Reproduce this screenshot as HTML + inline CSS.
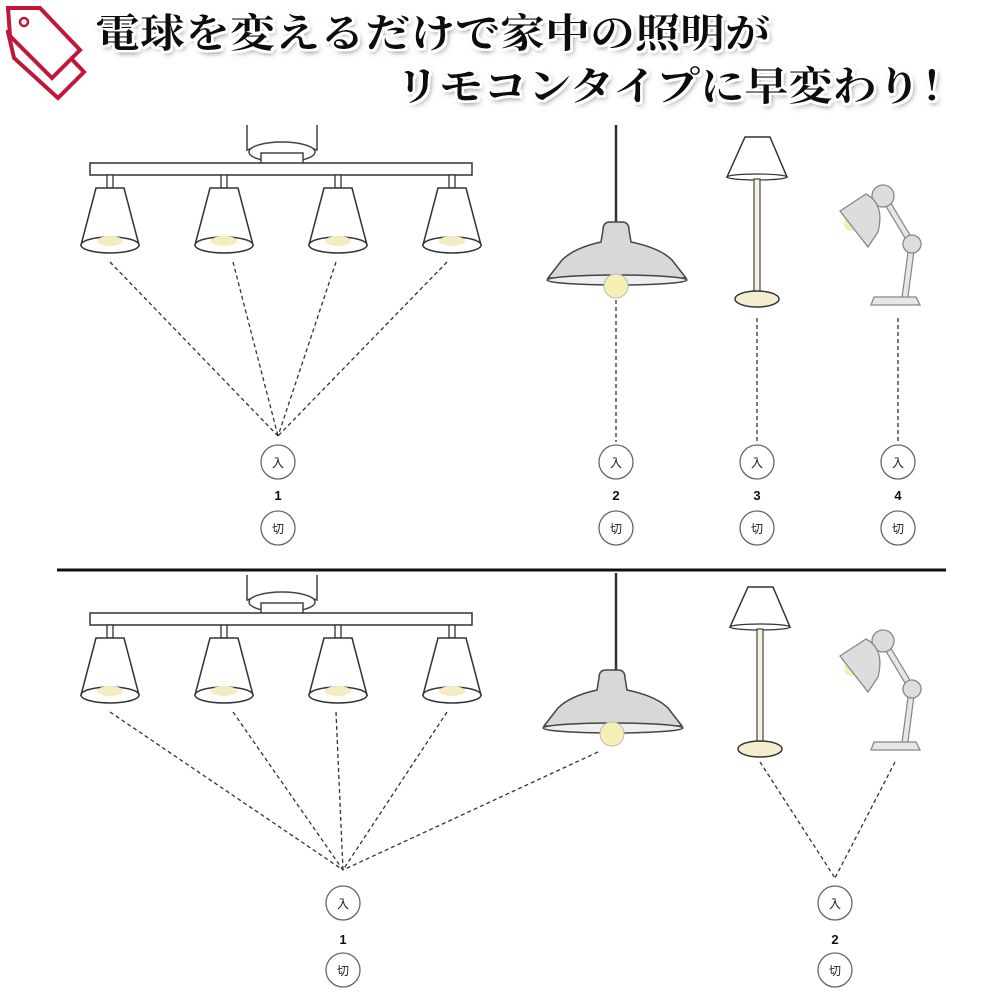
<!DOCTYPE html>
<html><head><meta charset="utf-8"><style>
html,body{margin:0;padding:0;background:#fff;}
svg{display:block;}
.t{font-family:"Liberation Sans","Noto Sans CJK JP",sans-serif;}
</style></head><body>
<svg width="1000" height="1000" viewBox="0 0 1000 1000" xmlns="http://www.w3.org/2000/svg">
<defs>
<filter id="sh" x="-10%" y="-30%" width="120%" height="160%">
<feMorphology in="SourceAlpha" operator="dilate" radius="2.5" result="d"/>
<feFlood flood-color="#fff"/><feComposite in2="d" operator="in" result="w"/>
<feGaussianBlur in="SourceAlpha" stdDeviation="3" result="b"/>
<feOffset in="b" dx="2" dy="3" result="o"/>
<feFlood flood-color="#666"/><feComposite in2="o" operator="in" result="g"/>
<feMerge><feMergeNode in="g"/><feMergeNode in="w"/><feMergeNode in="SourceGraphic"/></feMerge>
</filter>
<g id="spot">
<rect x="-3" y="0" width="6" height="13" fill="#fff" stroke="#333" stroke-width="1.3"/>
<path d="M-14,13 L14,13 L29,70 L-29,70 Z" fill="#fff" stroke="#333" stroke-width="1.5"/>
<ellipse cx="0" cy="70" rx="29" ry="8" fill="#fff" stroke="#333" stroke-width="1.5"/>
<ellipse cx="0" cy="66" rx="13" ry="5" fill="#f4ecc0"/>
</g>
<g id="fixture">
<path d="M247,0 L247,25 Q282,12 317,25 L317,0" fill="none" stroke="#444" stroke-width="1.5"/>
<ellipse cx="282" cy="27" rx="33" ry="10" fill="#fff" stroke="#444" stroke-width="1.5"/>
<rect x="261" y="28" width="42" height="14" fill="#fff" stroke="#444" stroke-width="1.5"/>
<rect x="90" y="38" width="382" height="12" fill="#fff" stroke="#333" stroke-width="1.5"/>
<use href="#spot" x="110" y="50"/>
<use href="#spot" x="224" y="50"/>
<use href="#spot" x="338" y="50"/>
<use href="#spot" x="452" y="50"/>
</g>
<g id="pend">
<path d="M603,18 Q603,10 610,10 L622,10 Q629,10 629,18 L631,30 Q660,36 672,48 L686,66 L548,66 L562,48 Q574,36 601,30 Z" fill="#d8d8d8" stroke="#444" stroke-width="1.5"/>
<ellipse cx="617" cy="68" rx="70" ry="5" fill="#eee" stroke="#444" stroke-width="1.5"/>
<circle cx="616" cy="74" r="12" fill="#f5efb5" stroke="#bbb" stroke-width="1"/>
</g>
<g id="floor">
<path d="M745,0 L770,0 L787,40 L727,40 Z" fill="#fff" stroke="#333" stroke-width="1.5"/>
<ellipse cx="757" cy="40" rx="30" ry="3" fill="#fff" stroke="#333" stroke-width="1.2"/>
<rect x="754" y="42" width="6" height="118" fill="#f7f0dc" stroke="#444" stroke-width="1.2"/>
<ellipse cx="757" cy="162" rx="22" ry="8" fill="#f5edd0" stroke="#333" stroke-width="1.5"/>
</g>
<g id="desk">
<line x1="885" y1="15" x2="912" y2="60" stroke="#888" stroke-width="7"/>
<line x1="885" y1="15" x2="912" y2="60" stroke="#e6e6e6" stroke-width="4.5"/>
<line x1="912" y1="60" x2="905" y2="113" stroke="#888" stroke-width="7"/>
<line x1="912" y1="60" x2="905" y2="113" stroke="#e6e6e6" stroke-width="4.5"/>
<circle cx="883" cy="12" r="11" fill="#ddd" stroke="#888" stroke-width="1.3"/>
<circle cx="851" cy="40" r="7" fill="#f5efb5"/>
<path d="M840,27 L866,10 Q885,20 878,48 L868,63 Z" fill="#ddd" stroke="#888" stroke-width="1.3"/>
<circle cx="912" cy="60" r="9" fill="#ddd" stroke="#888" stroke-width="1.3"/>
<path d="M874,113 L916,113 L920,121 L871,121 Z" fill="#e6e6e6" stroke="#888" stroke-width="1.3"/>
</g>
</defs>

<!-- tag icon -->
<g stroke="#c0173a" stroke-width="4" fill="#fff" stroke-linejoin="miter">
<path d="M8,32 L14,58 L58,98 L84,72 L40,26 Z" fill="none"/>
<path d="M8,8 L40,8 L80,50 L52,78 L10,36 Z"/>
<circle cx="24" cy="22" r="4" stroke-width="2.5"/>
</g>

<!-- title -->
<g filter="url(#sh)" class="t" font-weight="bold" font-size="40" fill="#111">
<text x="95" y="47" textLength="675" lengthAdjust="spacingAndGlyphs" font-family="Liberation Serif, Noto Serif CJK SC, serif">電球を変えるだけで家中の照明が</text>
<text x="395" y="100" textLength="570" lengthAdjust="spacingAndGlyphs" font-family="Liberation Serif, Noto Serif CJK SC, serif">リモコンタイプに早変わり！</text>
</g>

<!-- top section -->
<use href="#fixture" x="0" y="125"/>
<line x1="616" y1="125" x2="616" y2="224" stroke="#333" stroke-width="2.5"/>
<use href="#pend" x="0" y="212"/>
<use href="#floor" x="0" y="137"/>
<use href="#desk" x="0" y="184"/>

<g stroke="#333" stroke-width="1.3" stroke-dasharray="4,3" fill="none">
<line x1="110" y1="262" x2="278" y2="436"/>
<line x1="233" y1="262" x2="278" y2="436"/>
<line x1="336" y1="262" x2="278" y2="436"/>
<line x1="447" y1="262" x2="278" y2="436"/>
<line x1="616" y1="300" x2="616" y2="442"/>
<line x1="757" y1="318" x2="757" y2="442"/>
<line x1="898" y1="318" x2="898" y2="442"/>
<line x1="110" y1="712" x2="343" y2="870"/>
<line x1="233" y1="712" x2="343" y2="870"/>
<line x1="336" y1="712" x2="343" y2="870"/>
<line x1="447" y1="712" x2="343" y2="870"/>
<line x1="598" y1="752" x2="343" y2="870"/>
<line x1="760" y1="762" x2="835" y2="878"/>
<line x1="895" y1="762" x2="835" y2="878"/>
</g>

<g fill="#fff" stroke="#666" stroke-width="1.3">
<circle cx="278" cy="462" r="17"/><circle cx="278" cy="528" r="17"/>
<circle cx="616" cy="462" r="17"/><circle cx="616" cy="528" r="17"/>
<circle cx="757" cy="462" r="17"/><circle cx="757" cy="528" r="17"/>
<circle cx="898" cy="462" r="17"/><circle cx="898" cy="528" r="17"/>
<circle cx="343" cy="903" r="17"/><circle cx="343" cy="970" r="17"/>
<circle cx="835" cy="903" r="17"/><circle cx="835" cy="970" r="17"/>
</g>
<g class="t" font-size="12" fill="#222" text-anchor="middle">
<text x="278" y="467">入</text><text x="278" y="533">切</text>
<text x="616" y="467">入</text><text x="616" y="533">切</text>
<text x="757" y="467">入</text><text x="757" y="533">切</text>
<text x="898" y="467">入</text><text x="898" y="533">切</text>
<text x="343" y="908">入</text><text x="343" y="975">切</text>
<text x="835" y="908">入</text><text x="835" y="975">切</text>
</g>
<g class="t" font-size="13" font-weight="bold" fill="#111" text-anchor="middle">
<text x="278" y="500">1</text><text x="616" y="500">2</text>
<text x="757" y="500">3</text><text x="898" y="500">4</text>
<text x="343" y="944">1</text><text x="835" y="944">2</text>
</g>

<line x1="57" y1="570" x2="946" y2="570" stroke="#111" stroke-width="3"/>

<!-- bottom section -->
<use href="#fixture" x="0" y="575"/>
<line x1="616" y1="573" x2="616" y2="672" stroke="#333" stroke-width="2.5"/>
<use href="#pend" x="-4" y="660"/>
<use href="#floor" x="3" y="587"/>
<use href="#desk" x="0" y="629"/>
</svg>
</body></html>
